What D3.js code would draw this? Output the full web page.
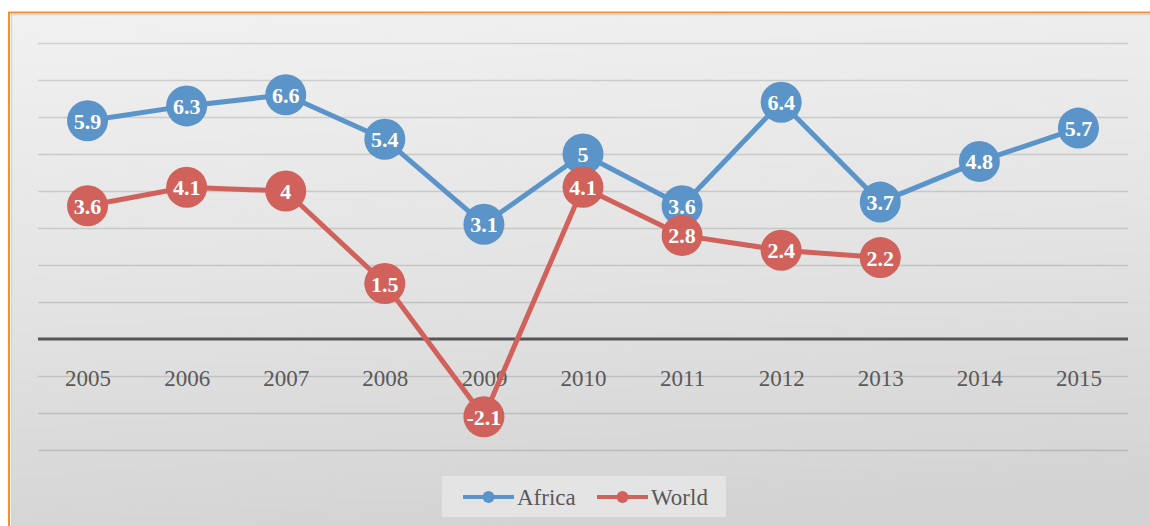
<!DOCTYPE html>
<html>
<head>
<meta charset="utf-8">
<script src="https://cdn.jsdelivr.net/npm/d3@7"></script>
<style>
  html, body { margin: 0; padding: 0; background: #ffffff; }
  svg { display: block; }
</style>
</head>
<body>
<svg id="chart" width="1150" height="526"></svg>
<script>
const years = ["2005","2006","2007","2008","2009","2010","2011","2012","2013","2014","2015"];
const africa = [5.9, 6.3, 6.6, 5.4, 3.1, 5, 3.6, 6.4, 3.7, 4.8, 5.7];
const world = [3.6, 4.1, 4, 1.5, -2.1, 4.1, 2.8, 2.4, 2.2, null, null];
const gridValues = [-3, -2, -1, 0, 1, 2, 3, 4, 5, 6, 7, 8];
const seriesNames = ["Africa", "World"];

const blue = "#5b94c9";
const red = "#d0625b";
const colors = [blue, red];

const svg = d3.select("#chart");
const defs = svg.append("defs");
const grad = defs.append("linearGradient").attr("id", "bg")
  .attr("x1", "0").attr("y1", "0").attr("x2", "0.15").attr("y2", "1");
grad.append("stop").attr("offset", "0").attr("stop-color", "#f1f1f1");
grad.append("stop").attr("offset", "0.5").attr("stop-color", "#e4e4e4");
grad.append("stop").attr("offset", "1").attr("stop-color", "#d3d3d3");

// outer orange frame
svg.append("rect").attr("x", 9).attr("y", 12.5).attr("width", 1160).attr("height", 540)
  .attr("fill", "#ffffff").attr("stroke", "#f39035").attr("stroke-width", 2);
// chart area
svg.append("rect").attr("x", 11.5).attr("y", 14.5).attr("width", 1160).attr("height", 540)
  .attr("fill", "url(#bg)").attr("stroke", "#d6d6d6").attr("stroke-width", 1.5);

const x = d3.scalePoint().domain(years).range([38, 1128]).padding(0.5);
const y = d3.scaleLinear().domain([-3, 8]).range([450, 43]);

// gridlines
svg.append("g").selectAll("line").data(gridValues.filter(v => v !== 0)).join("line")
  .attr("x1", 38).attr("x2", 1128)
  .attr("y1", d => Math.round(y(d)) + 0.5).attr("y2", d => Math.round(y(d)) + 0.5)
  .attr("stroke", "#000").attr("stroke-opacity", 0.13).attr("stroke-width", 1.5);

// x axis labels
const xAxis = d3.axisBottom(x).tickSize(0).tickPadding(0);
const gx = svg.append("g").attr("transform", `translate(0,${y(0)})`).call(xAxis);
gx.select(".domain").remove();
gx.selectAll("text")
  .attr("dy", null)
  .attr("y", 47)
  .attr("font-family", "'Liberation Serif', serif")
  .attr("font-size", 23)
  .attr("fill", "#595959");

// zero line
svg.append("line").attr("x1", 38).attr("x2", 1128)
  .attr("y1", y(0)).attr("y2", y(0))
  .attr("stroke", "#555555").attr("stroke-width", 3);

const seriesData = [africa, world];
seriesData.forEach((vals, i) => {
  const pts = years.map((yr, j) => ({ yr, v: vals[j] })).filter(d => d.v !== null);
  const line = d3.line().x(d => x(d.yr)).y(d => y(d.v));
  svg.append("path").datum(pts).attr("d", line)
    .attr("fill", "none").attr("stroke", colors[i]).attr("stroke-width", 5)
    .attr("stroke-linejoin", "round");
  const g = svg.append("g");
  g.selectAll("circle").data(pts).join("circle")
    .attr("cx", d => x(d.yr)).attr("cy", d => y(d.v)).attr("r", 20.5)
    .attr("fill", colors[i]);
  g.selectAll("text").data(pts).join("text")
    .attr("x", d => x(d.yr)).attr("y", d => y(d.v) + 8)
    .attr("text-anchor", "middle")
    .attr("font-family", "'Liberation Serif', serif")
    .attr("font-weight", "bold")
    .attr("font-size", 22)
    .attr("fill", "#ffffff")
    .text(d => d.v);
});

// legend
const lg = svg.append("g");
lg.append("rect").attr("x", 442).attr("y", 476).attr("width", 284).attr("height", 41)
  .attr("fill", "#e4e4e4");
const legendX = [463, 597];
seriesNames.forEach((name, i) => {
  const lx = legendX[i];
  lg.append("line").attr("x1", lx).attr("x2", lx + 51).attr("y1", 497).attr("y2", 497)
    .attr("stroke", colors[i]).attr("stroke-width", 4);
  lg.append("circle").attr("cx", lx + 25.5).attr("cy", 497).attr("r", 6).attr("fill", colors[i]);
  lg.append("text").attr("x", lx + 54).attr("y", 505)
    .attr("font-family", "'Liberation Serif', serif")
    .attr("font-size", 23).attr("fill", "#595959").text(name);
});
</script>
</body>
</html>
